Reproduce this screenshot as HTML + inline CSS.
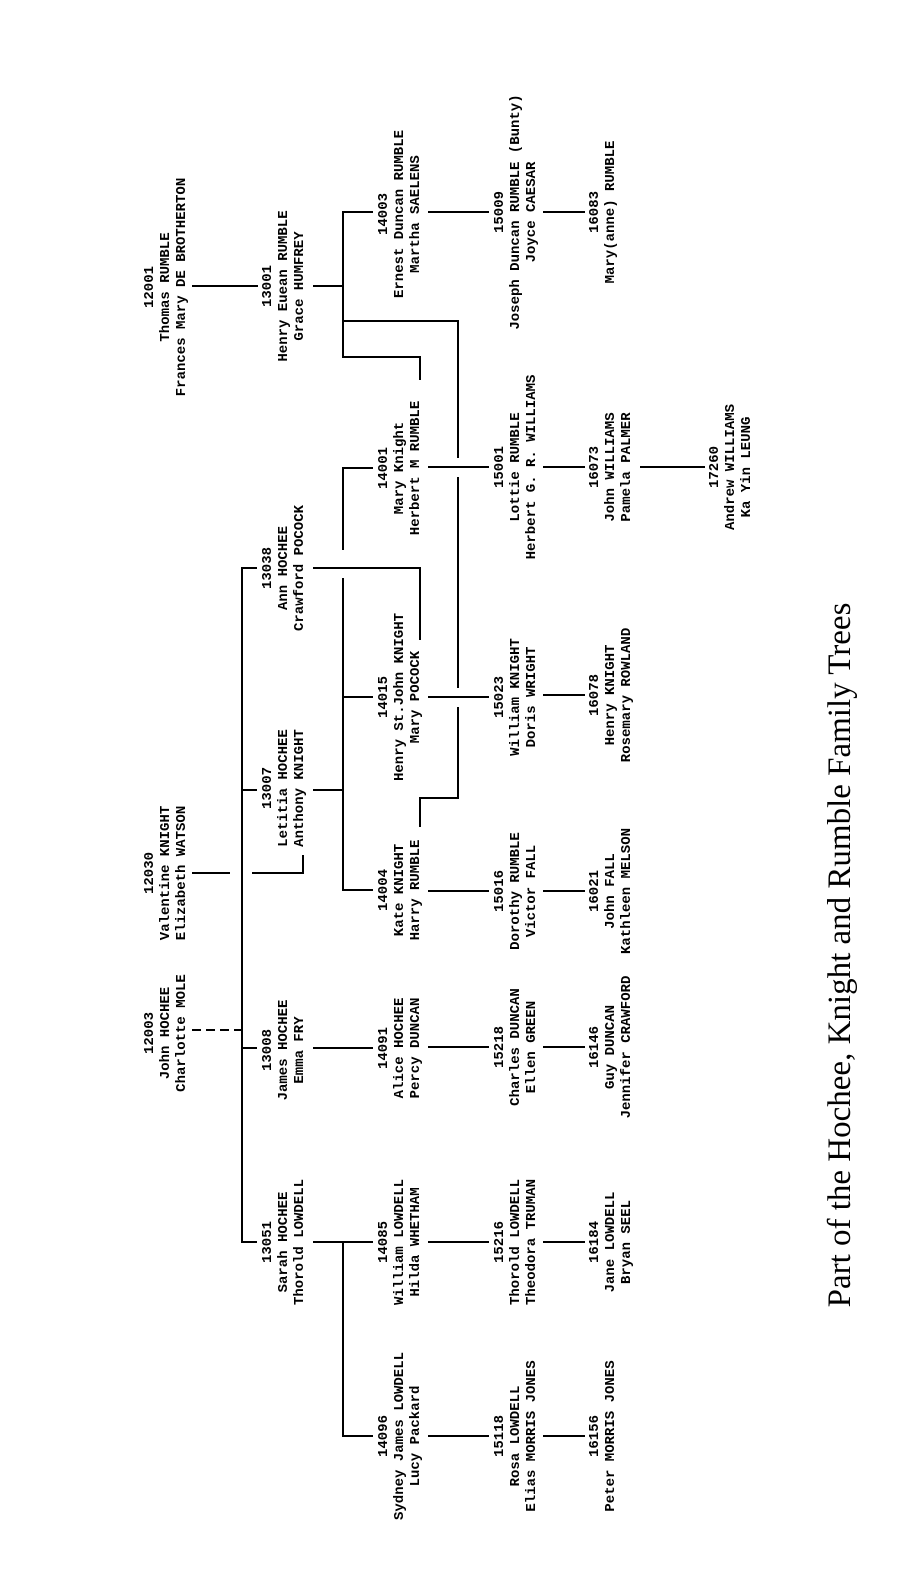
<!DOCTYPE html>
<html><head><meta charset="utf-8"><style>
html,body{margin:0;padding:0;background:#fff;}
svg{display:block;}
.t{font-family:"Liberation Mono",monospace;font-weight:bold;font-size:14px;fill:#000;text-anchor:middle;}
.c{font-family:"Liberation Serif",serif;font-size:33px;fill:#000;text-anchor:middle;}
line,polyline{stroke:#000;stroke-width:2;fill:none;}
</style></head><body>
<svg width="906" height="1592" viewBox="0 0 906 1592" xmlns="http://www.w3.org/2000/svg">
<g class="t">
<!-- G1 -->
<g transform="translate(153,287) rotate(-90)"><text y="0">12001</text><text y="16">Thomas RUMBLE</text><text y="32">Frances Mary DE BROTHERTON</text></g>
<g transform="translate(153,873) rotate(-90)"><text y="0">12030</text><text y="16">Valentine KNIGHT</text><text y="32">Elizabeth WATSON</text></g>
<g transform="translate(153,1033) rotate(-90)"><text y="0">12003</text><text y="16">John HOCHEE</text><text y="32">Charlotte MOLE</text></g>
<!-- G2 -->
<g transform="translate(271,286) rotate(-90)"><text y="0">13001</text><text y="16">Henry Euean RUMBLE</text><text y="32">Grace HUMFREY</text></g>
<g transform="translate(271,568) rotate(-90)"><text y="0">13038</text><text y="16">Ann HOCHEE</text><text y="32">Crawford POCOCK</text></g>
<g transform="translate(271,788) rotate(-90)"><text y="0">13007</text><text y="16">Letitia HOCHEE</text><text y="32">Anthony KNIGHT</text></g>
<g transform="translate(271,1050) rotate(-90)"><text y="0">13008</text><text y="16">James HOCHEE</text><text y="32">Emma FRY</text></g>
<g transform="translate(271,1242) rotate(-90)"><text y="0">13051</text><text y="16">Sarah HOCHEE</text><text y="32">Thorold LOWDELL</text></g>
<!-- G3 -->
<g transform="translate(387,214) rotate(-90)"><text y="0">14003</text><text y="16">Ernest Duncan RUMBLE</text><text y="32">Martha SAELENS</text></g>
<g transform="translate(387,468) rotate(-90)"><text y="0">14001</text><text y="16">Mary Knight</text><text y="32">Herbert M RUMBLE</text></g>
<g transform="translate(387,697) rotate(-90)"><text y="0">14015</text><text y="16">Henry St.John KNIGHT</text><text y="32">Mary POCOCK</text></g>
<g transform="translate(387,890) rotate(-90)"><text y="0">14004</text><text y="16">Kate KNIGHT</text><text y="32">Harry RUMBLE</text></g>
<g transform="translate(387,1048) rotate(-90)"><text y="0">14091</text><text y="16">Alice HOCHEE</text><text y="32">Percy DUNCAN</text></g>
<g transform="translate(387,1242) rotate(-90)"><text y="0">14085</text><text y="16">William LOWDELL</text><text y="32">Hilda WHETHAM</text></g>
<g transform="translate(387,1436) rotate(-90)"><text y="0">14096</text><text y="16">Sydney James LOWDELL</text><text y="32">Lucy Packard</text></g>
<!-- G4 -->
<g transform="translate(503,212) rotate(-90)"><text y="0">15009</text><text y="16">Joseph Duncan RUMBLE (Bunty)</text><text y="32">Joyce CAESAR</text></g>
<g transform="translate(503,467) rotate(-90)"><text y="0">15001</text><text y="16">Lottie RUMBLE</text><text y="32">Herbert G. R. WILLIAMS</text></g>
<g transform="translate(503,697) rotate(-90)"><text y="0">15023</text><text y="16">William KNIGHT</text><text y="32">Doris WRIGHT</text></g>
<g transform="translate(503,891) rotate(-90)"><text y="0">15016</text><text y="16">Dorothy RUMBLE</text><text y="32">Victor FALL</text></g>
<g transform="translate(503,1047) rotate(-90)"><text y="0">15218</text><text y="16">Charles DUNCAN</text><text y="32">Ellen GREEN</text></g>
<g transform="translate(503,1242) rotate(-90)"><text y="0">15216</text><text y="16">Thorold LOWDELL</text><text y="32">Theodora TRUMAN</text></g>
<g transform="translate(503,1436) rotate(-90)"><text y="0">15118</text><text y="16">Rosa LOWDELL</text><text y="32">Elias MORRIS JONES</text></g>
<!-- G5 -->
<g transform="translate(598,212) rotate(-90)"><text y="0">16083</text><text y="16">Mary(anne) RUMBLE</text></g>
<g transform="translate(598,467) rotate(-90)"><text y="0">16073</text><text y="16">John WILLIAMS</text><text y="32">Pamela PALMER</text></g>
<g transform="translate(598,695) rotate(-90)"><text y="0">16078</text><text y="16">Henry KNIGHT</text><text y="32">Rosemary ROWLAND</text></g>
<g transform="translate(598,891) rotate(-90)"><text y="0">16021</text><text y="16">John FALL</text><text y="32">Kathleen MELSON</text></g>
<g transform="translate(598,1047) rotate(-90)"><text y="0">16146</text><text y="16">Guy DUNCAN</text><text y="32">Jennifer CRAWFORD</text></g>
<g transform="translate(598,1242) rotate(-90)"><text y="0">16184</text><text y="16">Jane LOWDELL</text><text y="32">Bryan SEEL</text></g>
<g transform="translate(598,1436) rotate(-90)"><text y="0">16156</text><text y="16">Peter MORRIS JONES</text></g>
<!-- G6 -->
<g transform="translate(718,467) rotate(-90)"><text y="0">17260</text><text y="16">Andrew WILLIAMS</text><text y="32">Ka Yin LEUNG</text></g>
</g>

<line x1="192" y1="286" x2="258" y2="286"/>
<line x1="192" y1="873" x2="230" y2="873"/>
<polyline points="252,873 303,873 303,855"/>
<line x1="192" y1="1030" x2="242" y2="1030" stroke-dasharray="9,5"/>
<line x1="242" y1="568" x2="242" y2="1243"/>
<line x1="241" y1="568" x2="257" y2="568"/>
<line x1="242" y1="790" x2="257" y2="790"/>
<line x1="242" y1="1048" x2="257" y2="1048"/>
<line x1="241" y1="1242" x2="257" y2="1242"/>

<line x1="313" y1="286" x2="343" y2="286"/>
<polyline points="373,212 343,212 343,357 420,357 420,380"/>
<polyline points="343,321 458,321 458,458"/>
<polyline points="458,477 458,688"/>
<polyline points="458,707 458,798 420,798 420,827"/>
<polyline points="373,468 343,468 343,550"/>
<polyline points="313,568 420,568 420,640"/>
<line x1="313" y1="790" x2="343" y2="790"/>
<polyline points="343,578 343,890 373,890"/>
<line x1="343" y1="697" x2="373" y2="697"/>
<line x1="313" y1="1048" x2="373" y2="1048"/>
<line x1="313" y1="1242" x2="373" y2="1242"/>
<polyline points="343,1242 343,1436 373,1436"/>

<line x1="428" y1="212" x2="489" y2="212"/>
<line x1="543" y1="212" x2="585" y2="212"/>
<line x1="428" y1="467" x2="489" y2="467"/>
<line x1="543" y1="467" x2="585" y2="467"/>
<line x1="640" y1="467" x2="705" y2="467"/>
<line x1="428" y1="697" x2="489" y2="697"/>
<line x1="543" y1="695" x2="585" y2="695"/>
<line x1="428" y1="891" x2="489" y2="891"/>
<line x1="543" y1="891" x2="585" y2="891"/>
<line x1="428" y1="1047" x2="489" y2="1047"/>
<line x1="543" y1="1047" x2="585" y2="1047"/>
<line x1="428" y1="1242" x2="489" y2="1242"/>
<line x1="543" y1="1242" x2="585" y2="1242"/>
<line x1="428" y1="1436" x2="489" y2="1436"/>
<line x1="543" y1="1436" x2="585" y2="1436"/>

<text class="c" transform="translate(850,955) rotate(-90)">Part of the Hochee, Knight and Rumble Family Trees</text>
</svg>
</body></html>
